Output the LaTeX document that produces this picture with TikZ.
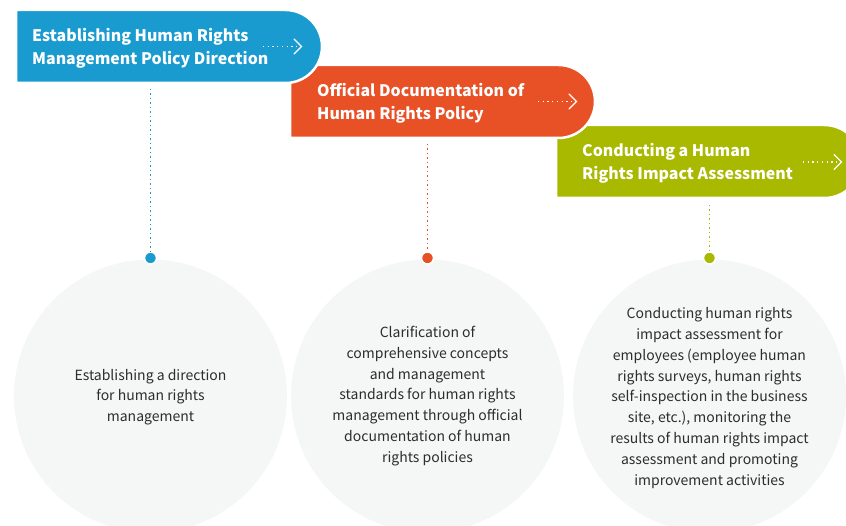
\documentclass[tikz,border=0pt]{standalone}
\usepackage{fontspec}
\setmainfont{Noto Sans CJK KR}
\usetikzlibrary{calc}
\definecolor{cblue}{RGB}{26,155,208}
\definecolor{corange}{RGB}{232,80,38}
\definecolor{cgreen}{RGB}{168,185,0}
\definecolor{cgray}{RGB}{245,246,246}
\definecolor{ctext}{RGB}{45,45,45}
\tikzset{
  banner/.style={draw=white, line width=2.5pt},
  btext/.style={text=white, font=\bfseries\fontsize{15.9}{23}\selectfont, align=left, inner sep=0pt, anchor=west},
  bigcirc/.style={circle, fill=cgray, minimum size=273pt, inner sep=0pt},
  ctext/.style={text=ctext, font=\fontsize{14}{20.8}\selectfont, align=center, inner sep=0pt},
  dotnode/.style={circle, draw=white, line width=1.5pt, minimum size=12pt, inner sep=0pt},
  conn/.style={line width=1.6pt, dash pattern=on 1.5pt off 3pt},
  arrdots/.style={white, line width=1.4pt, dash pattern=on 1.3pt off 3.4pt},
  chev/.style={white, line width=1.3pt, line cap=round, line join=miter}
}
\begin{document}
\begin{tikzpicture}[x=1pt,y=-1pt]
\useasboundingbox (0,0) rectangle (846,526);
\clip (0,0) rectangle (846,526);
% big circles
\node[bigcirc] (k1) at (150.5,396) {};
\node[bigcirc] (k2) at (427.5,396) {};
\node[bigcirc] (k3) at (709.5,396) {};
% circle texts
\node[ctext] (c1) at (150.5,397) {Establishing a direction\\for human rights\\management};
\node[ctext] (c2) at (427.5,396) {Clarification of\\comprehensive concepts\\and management\\standards for human rights\\management through official\\documentation of human\\rights policies};
\node[ctext] (c3) at (709.5,398) {Conducting human rights\\impact assessment for\\employees (employee human\\rights surveys, human rights\\self-inspection in the business\\site, etc.), monitoring the\\results of human rights impact\\assessment and promoting\\improvement activities};
% banners (drawn back to front)
\path[banner, fill=cgreen] (556,125) [rounded corners=36.5pt] -- (861,125) -- (861,198) [sharp corners] -- (556,198) -- cycle;
\path[banner, fill=corange] (290,65) [rounded corners=36.5pt] -- (595,65) -- (595,138) [sharp corners] -- (290,138) -- cycle;
\path[banner, fill=cblue] (16,10) [rounded corners=36.5pt] -- (322,10) -- (322,83) [sharp corners] -- (16,83) -- cycle;
% banner texts
\node[btext] (t1) at (32,48) {Establishing Human Rights\\Management Policy Direction};
\node[btext] (t2) at (317,103) {Official Documentation of\\Human Rights Policy};
\node[btext] (t3) at (582,163) {Conducting a Human\\Rights Impact Assessment};
% banner arrows
\draw[arrdots] (263,46.5) -- (296,46.5);
\draw[chev] (294,39) -- (301.5,46.5) -- (294,54);
\draw[arrdots] (538,101.5) -- (571,101.5);
\draw[chev] (569,94) -- (576.5,101.5) -- (569,109);
\draw[arrdots] (803,162) -- (836,162);
\draw[chev] (834,154.5) -- (841.5,162) -- (834,169.5);
% connectors
\coordinate (b1) at (150.5,89);
\coordinate (b2) at (427.5,144);
\coordinate (b3) at (709.5,205);
\node[dotnode, fill=cblue] (d1) at (150.5,258) {};
\node[dotnode, fill=corange] (d2) at (427.5,258) {};
\node[dotnode, fill=cgreen] (d3) at (709.5,258) {};
\draw[conn, cblue] (b1) -- (d1.north);
\draw[conn, corange] (b2) -- (d2.north);
\draw[conn, cgreen] (b3) -- (d3.north);
\end{tikzpicture}
\end{document}
